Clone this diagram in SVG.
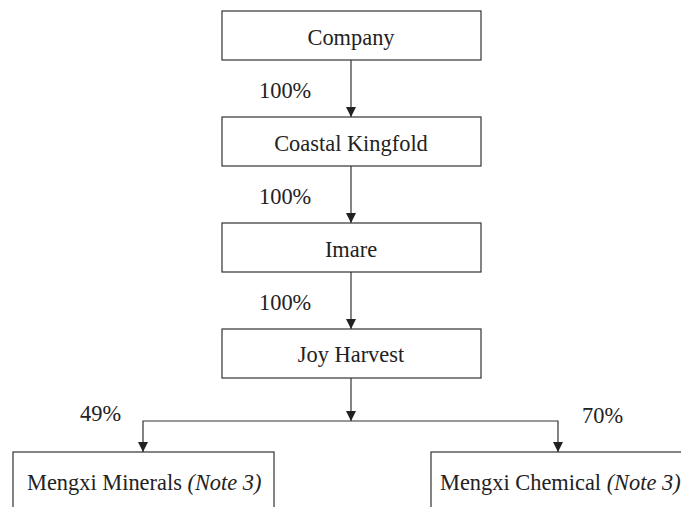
<svg xmlns="http://www.w3.org/2000/svg" width="681" height="507" viewBox="0 0 681 507">
<defs>
<marker id="ah" viewBox="0 0 10 10" refX="10" refY="5" markerWidth="10" markerHeight="10" markerUnits="userSpaceOnUse" orient="auto">
<path d="M0,0 L10,5 L0,10 z" fill="#222"/>
</marker>
<style>
.box{fill:#fff;stroke:#333;stroke-width:1.2}
.t{font-family:"Liberation Serif","Times New Roman",serif;font-size:22.4px;fill:#222}
.c{text-anchor:middle}
.e{stroke:#333;stroke-width:1.2;fill:none}
</style>
</defs>
<rect width="681" height="507" fill="#fff"/>
<g id="connectors">
<line class="e" x1="351" y1="60" x2="351" y2="117" marker-end="url(#ah)"/>
<line class="e" x1="351" y1="166" x2="351" y2="223" marker-end="url(#ah)"/>
<line class="e" x1="351" y1="272" x2="351" y2="329" marker-end="url(#ah)"/>
<line class="e" x1="351" y1="378" x2="351" y2="421" marker-end="url(#ah)"/>
<polyline class="e" points="351,421 143,421 143,452" marker-end="url(#ah)"/>
<polyline class="e" points="351,421 558,421 558,452" marker-end="url(#ah)"/>
<text class="t" x="259" y="98">100%</text>
<text class="t" x="259" y="204">100%</text>
<text class="t" x="259" y="310">100%</text>
<text class="t" x="80" y="421">49%</text>
<text class="t" x="582" y="423">70%</text>
</g>
<g id="company">
<rect class="box" x="222" y="11" width="259" height="49"/>
<text class="t c" x="351" y="45">Company</text>
</g>
<g id="coastal">
<rect class="box" x="222" y="117" width="259" height="49"/>
<text class="t c" x="351" y="151">Coastal Kingfold</text>
</g>
<g id="imare">
<rect class="box" x="222" y="223" width="259" height="49"/>
<text class="t c" x="351" y="257">Imare</text>
</g>
<g id="joy">
<rect class="box" x="222" y="329" width="259" height="49"/>
<text class="t c" x="351" y="362">Joy Harvest</text>
</g>
<g id="minerals">
<rect class="box" x="13" y="452" width="261" height="80"/>
<text class="t" x="27" y="490">Mengxi Minerals <tspan font-style="italic">(Note 3)</tspan></text>
</g>
<g id="chemical">
<rect class="box" x="431" y="452" width="280" height="80"/>
<text class="t" x="440" y="490">Mengxi Chemical <tspan font-style="italic">(Note 3)</tspan></text>
</g>
</svg>
